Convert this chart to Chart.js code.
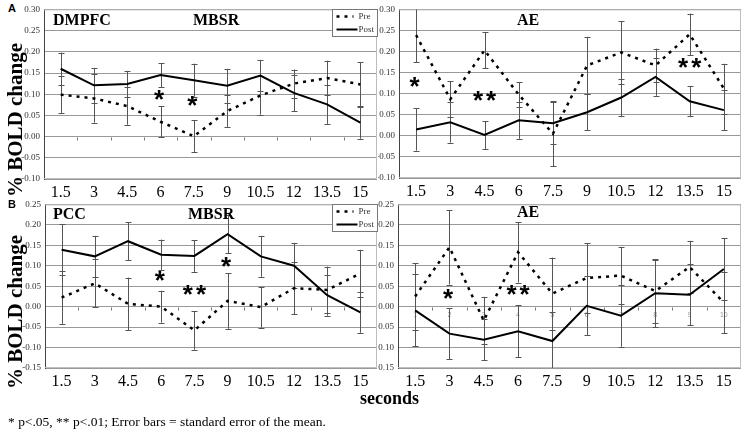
<!DOCTYPE html>
<html>
<head>
<meta charset="utf-8">
<script src="https://cdn.jsdelivr.net/npm/chart.js@4.4.0/dist/chart.umd.min.js"></script>
<style>
  body { margin: 0; background: #fff; }
  #fig { position: relative; width: 747px; height: 430px; overflow: hidden; font-family: 'Liberation Serif', serif; color: #000; }
  #fig canvas, .txt { position: absolute; }
  .txt { white-space: nowrap; line-height: 1; }
  .title { font-weight: bold; font-size: 16px; }
  .ytitle { font-weight: bold; font-size: 21px; transform: translate(-50%, -50%) rotate(-90deg); }
  .letter { font-family: 'Liberation Sans', sans-serif; font-weight: bold; font-size: 11px; }
</style>
</head>
<body>
<div id="fig">
  <canvas id="aLeft" width="360" height="205" style="left:20px;top:0px"></canvas>
  <canvas id="aRight" width="369" height="205" style="left:378px;top:0px"></canvas>
  <canvas id="bLeft" width="360" height="200" style="left:20px;top:195px"></canvas>
  <canvas id="bRight" width="369" height="200" style="left:378px;top:195px"></canvas>

  <div class="txt letter" style="left:8px;top:3px">A</div>
  <div class="txt letter" style="left:8px;top:199px">B</div>
  <div class="txt ytitle" style="left:15px;top:120px">% BOLD change</div>
  <div class="txt ytitle" style="left:15px;top:312px">% BOLD change</div>

  <div class="txt title" style="left:53px;top:12px">DMPFC</div>
  <div class="txt title" style="left:193px;top:12px">MBSR</div>
  <div class="txt title" style="left:517px;top:12px">AE</div>
  <div class="txt title" style="left:53px;top:206px">PCC</div>
  <div class="txt title" style="left:188px;top:206px">MBSR</div>
  <div class="txt title" style="left:517px;top:204px">AE</div>

  <div class="txt" style="left:360px;top:389px;font-weight:bold;font-size:18px">seconds</div>
  <div class="txt" style="left:8px;top:415px;font-size:13.5px">* p&lt;.05, ** p&lt;.01; Error bars = standard error of the mean.</div>
</div>

<script>
// time points (s)
const seconds = ['1.5', '3', '4.5', '6', '7.5', '9', '10.5', '12', '13.5', '15'];

// A: DMPFC, MBSR group
const dmpfcMbsrPre = [0.099, 0.090, 0.072, 0.035, 0.001, 0.060, 0.097, 0.125, 0.138, 0.123];
const dmpfcMbsrPreErr = [0.043, 0.057, 0.044, 0.037, 0.037, 0.037, 0.045, 0.033, 0.041, 0.053];
const dmpfcMbsrPost = [0.160, 0.121, 0.124, 0.145, 0.133, 0.120, 0.144, 0.103, 0.076, 0.033];
const dmpfcMbsrPostErr = [0.038, 0.041, 0.031, 0.028, 0.039, 0.040, 0.037, 0.043, 0.046, 0.038];
const dmpfcMbsrStars = [[3, 0.091, '*'], [4, 0.078, '*']];

// A: DMPFC, AE group
const dmpfcAePre = [0.239, 0.087, 0.203, 0.098, 0.005, 0.167, 0.198, 0.167, 0.241, 0.112];
const dmpfcAePreErr = [0.064, 0.043, 0.043, 0.029, 0.077, 0.068, 0.074, 0.040, 0.049, 0.059];
const dmpfcAePost = [0.015, 0.032, 0.002, 0.037, 0.030, 0.056, 0.091, 0.140, 0.082, 0.061];
const dmpfcAePostErr = [0.050, 0.048, 0.033, 0.044, 0.050, 0.043, 0.045, 0.045, 0.036, 0.047];
const dmpfcAeStars = [[0, 0.121, '*'], [2, 0.087, '**'], [8, 0.165, '**']];

// B: PCC, MBSR group
const pccMbsrPre = [0.022, 0.057, 0.007, 0.000, -0.058, 0.014, -0.001, 0.045, 0.041, 0.081];
const pccMbsrPreErr = [0.064, 0.059, 0.064, 0.039, 0.047, 0.068, 0.050, 0.064, 0.057, 0.058];
const pccMbsrPost = [0.139, 0.123, 0.160, 0.127, 0.124, 0.177, 0.123, 0.100, 0.028, -0.014];
const pccMbsrPostErr = [0.062, 0.050, 0.047, 0.037, 0.039, 0.046, 0.050, 0.055, 0.050, 0.050];
const pccMbsrStars = [[3, 0.068, '*'], [4, 0.033, '**'], [5, 0.101, '*']];

// B: PCC, AE group
const pccAePre = [0.025, 0.145, -0.034, 0.133, 0.032, 0.070, 0.076, 0.038, 0.097, 0.010];
const pccAePreErr = [0.081, 0.091, 0.058, 0.074, 0.088, 0.085, 0.070, 0.077, 0.064, 0.075];
const pccAePost = [-0.009, -0.066, -0.081, -0.060, -0.084, 0.002, -0.022, 0.033, 0.029, 0.092];
const pccAePostErr = [0.088, 0.062, 0.050, 0.063, 0.070, 0.072, 0.076, 0.083, 0.075, 0.076];
const pccAeStars = [[1, 0.025, '*'], [3, 0.033, '**']];
const pccAeCounts = ['1', '2', '3', '4', '5', '6', '7', '8', '9', '10'];

Chart.defaults.font.family = "'Liberation Serif', serif";
Chart.defaults.animation = false;

const preDash = [3, 5];
const starSize = 26;

// error bars, outline, zero-line ticks, stars and the little legend box
const panelExtras = {
  id: 'panelExtras',
  beforeDatasetsDraw(chart, args, opts) {
    const { ctx, chartArea: a, scales: { x, y } } = chart;
    ctx.save();
    ctx.strokeStyle = '#bdbdbd';
    ctx.lineWidth = 1;
    ctx.beginPath();
    ctx.moveTo(a.left, a.top + 0.5); ctx.lineTo(a.right - 0.5, a.top + 0.5);
    ctx.lineTo(a.right - 0.5, a.bottom - 0.5); ctx.lineTo(a.left, a.bottom - 0.5);
    ctx.stroke();

    const y0 = Math.round(y.getPixelForValue(0)) + 0.5;
    if (opts.zeroTicks) {
      ctx.strokeStyle = '#777';
      for (let i = 0; i < seconds.length - 1; i++) {
        const bx = Math.round((x.getPixelForValue(i) + x.getPixelForValue(i + 1)) / 2) + 0.5;
        ctx.beginPath(); ctx.moveTo(bx, y0); ctx.lineTo(bx, y0 + 3); ctx.stroke();
      }
    }
    if (opts.counts) {
      ctx.fillStyle = '#999';
      ctx.font = "7px 'Liberation Sans', sans-serif";
      ctx.textAlign = 'center';
      ctx.textBaseline = 'middle';
      opts.counts.forEach((c, i) => ctx.fillText(c, x.getPixelForValue(i), y0 + 8));
    }

    ctx.beginPath();
    ctx.rect(a.left, a.top, a.width, a.height);
    ctx.clip();
    ctx.strokeStyle = '#555';
    ctx.lineWidth = 1;
    chart.data.datasets.forEach((ds, d) => {
      const errs = opts.errors[d];
      ds.data.forEach((v, i) => {
        const px = Math.round(x.getPixelForValue(i)) + 0.5;
        const top = y.getPixelForValue(v + errs[i]);
        const bot = y.getPixelForValue(v - errs[i]);
        ctx.beginPath();
        ctx.moveTo(px, top); ctx.lineTo(px, bot);
        ctx.moveTo(px - 3, Math.round(top) + 0.5); ctx.lineTo(px + 3, Math.round(top) + 0.5);
        ctx.moveTo(px - 3, Math.round(bot) + 0.5); ctx.lineTo(px + 3, Math.round(bot) + 0.5);
        ctx.stroke();
      });
    });
    ctx.restore();
  },
  afterDatasetsDraw(chart, args, opts) {
    const { ctx, chartArea: a, scales: { x, y } } = chart;
    ctx.save();
    ctx.fillStyle = '#000';
    ctx.font = 'bold ' + starSize + "px 'Liberation Sans', sans-serif";
    ctx.textAlign = 'center';
    ctx.textBaseline = 'alphabetic';
    ctx.letterSpacing = '3px';
    (opts.stars || []).forEach(([i, v, t]) => {
      ctx.fillText(t, x.getPixelForValue(i) + (t.length > 1 ? 1.5 : 0), y.getPixelForValue(v) + starSize * 0.39);
    });
    ctx.letterSpacing = '0px';

    if (opts.legend) {
      const bx = Math.round(a.right) - 44.5, by = Math.round(a.top) + 0.5;
      ctx.fillStyle = '#fff';
      ctx.fillRect(bx, by, 45, 27);
      ctx.strokeStyle = '#777';
      ctx.lineWidth = 1;
      ctx.strokeRect(bx, by, 45, 27);
      ctx.strokeStyle = '#000';
      ctx.lineWidth = 2.5;
      ctx.setLineDash(preDash);
      ctx.beginPath(); ctx.moveTo(bx + 4, by + 7); ctx.lineTo(bx + 21, by + 7); ctx.stroke();
      ctx.setLineDash([]);
      ctx.lineWidth = 2;
      ctx.beginPath(); ctx.moveTo(bx + 4, by + 20); ctx.lineTo(bx + 25, by + 20); ctx.stroke();
      ctx.fillStyle = '#333';
      ctx.font = "9px 'Liberation Serif', serif";
      ctx.textAlign = 'left';
      ctx.textBaseline = 'middle';
      ctx.fillText('Pre', bx + 26, by + 7);
      ctx.fillText('Post', bx + 26, by + 20);
    }
    ctx.restore();
  }
};

function makePanel(id, pre, preErr, post, postErr, cfg) {
  return new Chart(document.getElementById(id), {
    type: 'line',
    data: {
      labels: seconds,
      datasets: [
        { label: 'Pre', data: pre, borderColor: '#000', borderWidth: 2.5, borderDash: preDash, pointRadius: 0, tension: 0 },
        { label: 'Post', data: post, borderColor: '#000', borderWidth: 2, pointRadius: 0, tension: 0 },
      ],
    },
    options: {
      responsive: false,
      layout: { padding: { top: cfg.padTop, right: cfg.padRight, left: 0, bottom: 0 } },
      plugins: {
        legend: { display: false },
        tooltip: { enabled: false },
        panelExtras: {
          errors: [preErr, postErr],
          stars: cfg.stars,
          legend: cfg.legend,
          counts: cfg.counts,
          zeroTicks: cfg.zeroTicks,
        },
      },
      scales: {
        x: {
          type: 'category',
          offset: true,
          grid: { display: false, drawTicks: false },
          border: { display: false },
          afterFit: (s) => { s.height = cfg.xHeight; },
          ticks: { autoSkip: false, maxRotation: 0, padding: cfg.xPad, color: '#000', font: { size: 16 } },
        },
        y: {
          min: cfg.min,
          max: cfg.max,
          afterFit: (s) => { s.width = cfg.yWidth; },
          grid: { color: '#999', lineWidth: 1, drawTicks: false },
          border: { color: '#444', width: 1 },
          ticks: {
            stepSize: 0.05,
            padding: 4,
            color: '#333',
            font: { size: 9 },
            callback: (v) => (Math.abs(v) < 1e-9 ? '0.00' : v.toFixed(2)),
          },
        },
      },
    },
    plugins: [panelExtras],
  });
}

makePanel('aLeft', dmpfcMbsrPre, dmpfcMbsrPreErr, dmpfcMbsrPost, dmpfcMbsrPostErr, {
  min: -0.1, max: 0.3, yWidth: 24, xHeight: 26, padTop: 7, padRight: 3, xPad: 4,
  stars: dmpfcMbsrStars, legend: true, zeroTicks: true,
});
makePanel('aRight', dmpfcAePre, dmpfcAePreErr, dmpfcAePost, dmpfcAePostErr, {
  min: -0.1, max: 0.3, yWidth: 21, xHeight: 27, padTop: 8, padRight: 6, xPad: 4,
  stars: dmpfcAeStars,
});
makePanel('bLeft', pccMbsrPre, pccMbsrPreErr, pccMbsrPost, pccMbsrPostErr, {
  min: -0.15, max: 0.25, yWidth: 25, xHeight: 27, padTop: 6, padRight: 3, xPad: 4,
  stars: pccMbsrStars, legend: true, zeroTicks: true,
});
makePanel('bRight', pccAePre, pccAePreErr, pccAePost, pccAePostErr, {
  min: -0.15, max: 0.25, yWidth: 20, xHeight: 27, padTop: 6, padRight: 6, xPad: 4,
  stars: pccAeStars, counts: pccAeCounts, zeroTicks: true,
});
</script>
</body>
</html>
